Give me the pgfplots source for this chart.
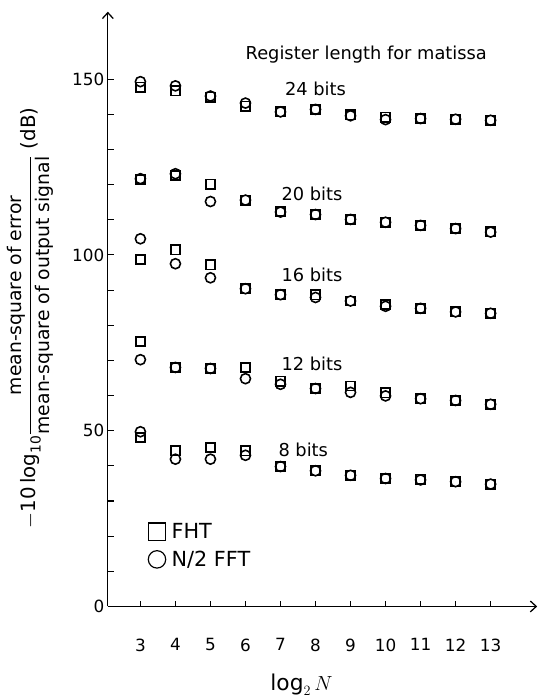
\documentclass[border=0pt]{standalone}
\usepackage{amsmath}
\usepackage{fontspec}
\setmainfont{DejaVu Sans}
\usepackage{pgfplots}
\usepackage{pgfplotstable}
\pgfplotsset{compat=1.18}
\usetikzlibrary{arrows.meta}

\pgfplotstableread{
x fht fft
3 147.7 149.3
4 146.7 148.1
5 144.9 145.2
6 142.3 143.2
7 140.7 140.7
8 141.4 141.4
9 139.9 139.6
10 139.2 138.5
11 138.8 138.8
12 138.6 138.6
13 138.3 138.3
}\bitsTwentyFour
\pgfplotstableread{
x fht fft
3 121.5 121.7
4 122.6 123.1
5 120.1 115.2
6 115.6 115.6
7 112.4 112.2
8 111.5 111.5
9 110.1 110.1
10 109.3 109.3
11 108.4 108.4
12 107.5 107.5
13 106.6 106.5
}\bitsTwenty
\pgfplotstableread{
x fht fft
3 98.7 104.6
4 101.5 97.5
5 97.2 93.5
6 90.4 90.4
7 88.7 88.7
8 88.7 87.9
9 86.9 86.9
10 85.9 85.4
11 84.8 84.8
12 83.8 83.8
13 83.4 83.4
}\bitsSixteen
\pgfplotstableread{
x fht fft
3 75.4 70.2
4 68.0 68.0
5 67.7 67.7
6 68.0 64.8
7 64.1 63.2
8 62.0 62.0
9 62.7 60.9
10 60.8 59.9
11 59.1 59.1
12 58.6 58.6
13 57.5 57.5
}\bitsTwelve
\pgfplotstableread{
x fht fft
3 48.1 49.7
4 44.3 41.9
5 45.2 41.9
6 44.3 43.0
7 39.8 39.8
8 38.6 38.6
9 37.3 37.3
10 36.4 36.4
11 36.2 36.0
12 35.5 35.5
13 34.8 34.8
}\bitsEight

\begin{document}
\begin{tikzpicture}
\begin{axis}[
  x=35.4bp, y=3.553bp,
  xmin=2.07, xmax=14.33, ymin=0, ymax=169.2,
  axis lines=left,
  axis line style={line width=1.3bp, -{Straight Barb[length=6bp,width=11bp,line width=1.3bp]}},
  clip=false,
  xtick={3,...,13},
  ytick={0,10,...,150},
  yticklabels={0,,,,,50,,,,,100,,,,,150},
  tick align=inside,
  major tick length=6bp,
  tick style={line width=1.1bp, black},
  /pgf/number format/assume math mode=true,
  tick label style={font=\fontsize{17bp}{19bp}\selectfont},
  xticklabel style={yshift=-29bp},
  legend style={draw=none, fill=none, at={(axis cs:3.22,17.3)}, anchor=west,
    font=\fontsize{21bp}{24bp}\selectfont, row sep=7bp, column sep=4bp, inner sep=0pt},
  legend cell align=left,
  legend image post style={mark size=8.8bp, line width=1.2bp},
  every axis plot/.append style={only marks, black, line width=1.6bp},
]
\addplot[mark=square, mark size=4.7bp] table[x=x, y=fht] {\bitsTwentyFour};
\addlegendentry{FHT}
\addplot[mark=o, mark size=5.1bp] table[x=x, y=fft] {\bitsTwentyFour};
\addlegendentry{N/2 FFT}
\addplot[mark=square, mark size=4.7bp, forget plot] table[x=x, y=fht] {\bitsTwenty};
\addplot[mark=o, mark size=5.1bp, forget plot] table[x=x, y=fft] {\bitsTwenty};
\addplot[mark=square, mark size=4.7bp, forget plot] table[x=x, y=fht] {\bitsSixteen};
\addplot[mark=o, mark size=5.1bp, forget plot] table[x=x, y=fft] {\bitsSixteen};
\addplot[mark=square, mark size=4.7bp, forget plot] table[x=x, y=fht] {\bitsTwelve};
\addplot[mark=o, mark size=5.1bp, forget plot] table[x=x, y=fft] {\bitsTwelve};
\addplot[mark=square, mark size=4.7bp, forget plot] table[x=x, y=fht] {\bitsEight};
\addplot[mark=o, mark size=5.1bp, forget plot] table[x=x, y=fft] {\bitsEight};

\begin{scope}[every node/.style={font=\fontsize{18bp}{20bp}\selectfont}]
\node at (axis cs:9.45,157) {Register length for matissa};
\node at (axis cs:8.0,147.2) {24 bits};
\node at (axis cs:7.9,117.4) {20 bits};
\node at (axis cs:7.9,94.3) {16 bits};
\node at (axis cs:7.9,68.9) {12 bits};
\node at (axis cs:7.65,44.5) {8 bits};
\end{scope}
\node[rotate=90, anchor=east, inner sep=0pt, font=\fontsize{20bp}{22bp}\selectfont]
  at (axis cs:-0.133,142) {$-\text{10}\,\text{log}_{\text{10}}\dfrac{\text{\fontsize{19bp}{21bp}\selectfont mean-square of error}}{\text{\fontsize{19bp}{21bp}\selectfont mean-square of output signal}}$ (dB)};
\node[font=\fontsize{22bp}{24bp}\selectfont] at (axis cs:7.6,-22.3) {$\log_2 N$};
\coordinate (O) at (axis cs:2.07,0);
\end{axis}
\path (O) ++(-109bp,-86bp) rectangle ++(546bp,699bp);
\end{tikzpicture}
\end{document}
